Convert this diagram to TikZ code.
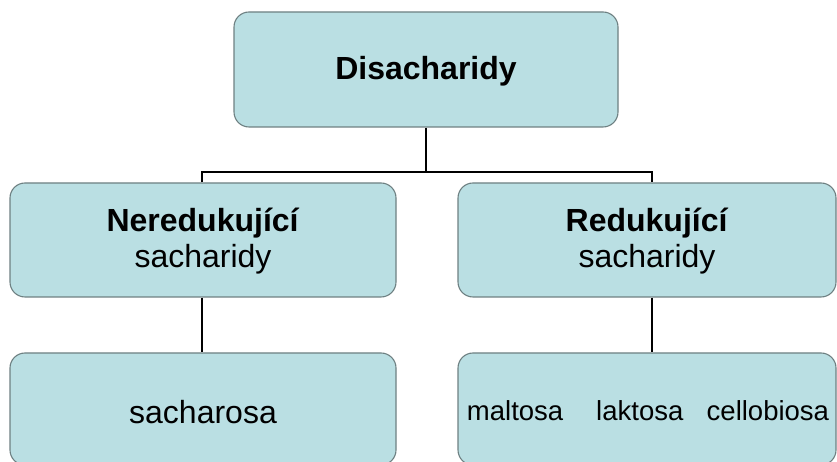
\documentclass[tikz,border=0pt]{standalone}
\usepackage{fontspec}
\setmainfont{Liberation Sans}
\definecolor{boxfill}{HTML}{BADFE3}
\definecolor{boxline}{HTML}{6E8082}
\begin{document}
\begin{tikzpicture}[x=1pt,y=1pt,
  box/.style={draw=boxline, line width=1.1pt, fill=boxfill, rounded corners=15pt,
    align=center, inner sep=0pt},
  link/.style={draw=black, line width=2.2pt}]
\useasboundingbox (0,0) rectangle (837,462);
\clip (0,0) rectangle (837,462);
\node[box, minimum width=384pt, minimum height=115pt] (top) at (426,392.5) {};
\node[font=\fontsize{32}{38}\selectfont\bfseries] (toptext) at ([yshift=-2pt]top.center) {Disacharidy};
\node[box, minimum width=386pt, minimum height=114pt] (nered) at (203,222) {};
\node[font=\fontsize{32}{36}\selectfont, align=center] (neredtext) at ([yshift=-1pt]nered.center) {\textbf{Neredukující}\\sacharidy};
\node[box, minimum width=378pt, minimum height=114pt] (red) at (647,222) {};
\node[font=\fontsize{32}{36}\selectfont, align=center] (redtext) at ([yshift=-1pt]red.center) {\textbf{Redukující}\\sacharidy};
\node[box, minimum width=386pt, minimum height=112pt] (sach) at (203,53) {};
\node[font=\fontsize{32}{38}\selectfont] (sachtext) at ([yshift=-3pt]sach.center) {sacharosa};
\node[box, minimum width=378pt, minimum height=112pt] (malt) at (647,53) {};
\node[font=\fontsize{27.5}{33}\selectfont] (malttext) at ([xshift=1pt,yshift=-2pt]malt.center) {maltosa\hspace{1.2em}laktosa\hspace{0.85em}cellobiosa};
\coordinate (jl) at (202,290);
\coordinate (jr) at (652,290);
\draw[link] (top.south) -- (top.south |- jl);
\draw[link] (jl |- nered.north) -- (jl) -- (jr) -- (jr |- red.north);
\draw[link] (jl |- nered.south) -- (jl |- sach.north);
\draw[link] (jr |- red.south) -- (jr |- malt.north);
\end{tikzpicture}
\end{document}
